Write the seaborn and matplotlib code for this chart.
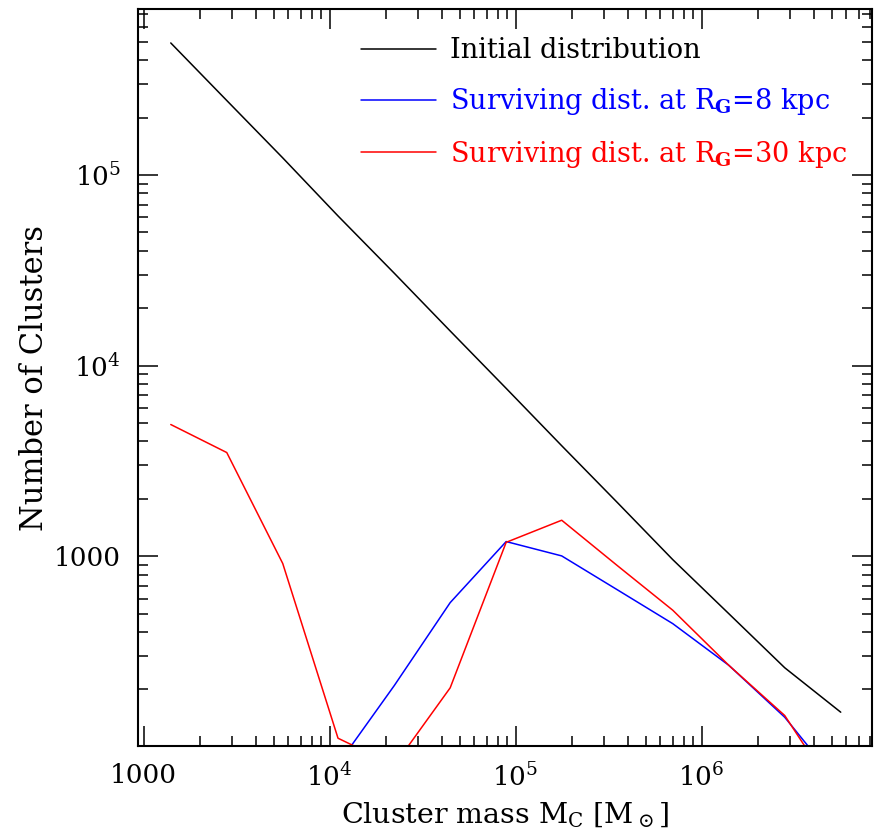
import numpy as np
import pandas as pd
import matplotlib
matplotlib.use("Agg")
import matplotlib.pyplot as plt
import seaborn as sns
from matplotlib.ticker import FixedLocator, FixedFormatter, LogLocator, NullFormatter

# Cluster mass bins [Msun]
mass = [1.40e3, 2.80e3, 5.60e3, 1.11e4, 2.23e4, 4.45e4, 8.9e4,
        1.77e5, 3.55e5, 7.0e5, 1.40e6, 2.80e6, 5.6e6]

# Initial cluster mass function
n_initial = [4.93e5, 2.46e5, 1.23e5, 6.1e4, 3.05e4, 1.52e4, 7.6e3,
             3.8e3, 1.9e3, 960, 500, 260, 152]

# Surviving clusters at R_G = 8 kpc (from the 4th bin on)
mass_rg8 = [1.11e4, 2.23e4, 4.45e4, 8.9e4, 1.77e5, 3.55e5, 7.0e5,
            1.40e6, 2.80e6, 5.6e6]
n_rg8 = [81, 210, 571, 1194, 1004, 664, 443, 268, 143, 62]

# Surviving clusters at R_G = 30 kpc
mass_rg30 = mass
n_rg30 = [4910, 3500, 916, 111, 80, 204, 1183, 1545, 888, 521, 268, 146, 52]

series_names = ["Initial distribution",
                r"Surviving dist. at R$_\mathbf{G}$=8 kpc",
                r"Surviving dist. at R$_\mathbf{G}$=30 kpc"]
series_colors = ["black", "#0000ff", "#ff0000"]

xtick_values = [1e3, 1e4, 1e5, 1e6]
xtick_labels = ["1000", r"$10^{4}$", r"$10^{5}$", r"$10^{6}$"]
ytick_values = [1e3, 1e4, 1e5]
ytick_labels = ["1000", r"$10^{4}$", r"$10^{5}$"]

frames = [
    pd.DataFrame({"mass": mass, "count": n_initial, "series": series_names[0]}),
    pd.DataFrame({"mass": mass_rg8, "count": n_rg8, "series": series_names[1]}),
    pd.DataFrame({"mass": mass_rg30, "count": n_rg30, "series": series_names[2]}),
]
df = pd.concat(frames, ignore_index=True)

sns.set_style("ticks")
plt.rcParams["font.family"] = ["DejaVu Serif"]
plt.rcParams["mathtext.fontset"] = "dejavuserif"
plt.rcParams["text.color"] = "black"
plt.rcParams["axes.labelcolor"] = "black"
plt.rcParams["xtick.color"] = "black"
plt.rcParams["ytick.color"] = "black"

fig = plt.figure(figsize=(8.75, 8.33), dpi=100)
ax = fig.add_axes([0.1574, 0.1044, 0.8392, 0.8844])

sns.lineplot(data=df, x="mass", y="count", hue="series",
             hue_order=series_names,
             palette=dict(zip(series_names, series_colors)),
             estimator=None, sort=False, linewidth=1.1, legend=False, ax=ax)

ax.set_xscale("log")
ax.set_yscale("log")
ax.set_xlim(930, 8.25e6)
ax.set_ylim(101, 7.4e5)

ax.xaxis.set_major_locator(FixedLocator(xtick_values))
ax.xaxis.set_major_formatter(FixedFormatter(xtick_labels))
ax.yaxis.set_major_locator(FixedLocator(ytick_values))
ax.yaxis.set_major_formatter(FixedFormatter(ytick_labels))
ax.xaxis.set_minor_locator(LogLocator(base=10, subs=np.arange(2, 10), numticks=20))
ax.yaxis.set_minor_locator(LogLocator(base=10, subs=np.arange(2, 10), numticks=20))
ax.xaxis.set_minor_formatter(NullFormatter())
ax.yaxis.set_minor_formatter(NullFormatter())

ax.tick_params(which="both", direction="in", top=True, right=True,
               color="black", labelcolor="black", labelsize=19)
ax.tick_params(which="major", length=14.4, width=1.1, pad=12)
ax.tick_params(which="minor", length=7.2, width=1.1)
for sp in ax.spines.values():
    sp.set_linewidth(1.5)
    sp.set_color("black")

ax.set_xlabel(r"Cluster mass M$_\mathrm{C}$ [M$_\odot$]", fontsize=20.5,
              labelpad=6, color="black")
ax.set_ylabel("Number of Clusters", fontsize=22, labelpad=3, color="black")

handles = ax.get_lines()[:3]
leg = ax.legend(handles, series_names, loc="upper left",
                bbox_to_anchor=(0.3037, 0.962), frameon=False, fontsize=19.5,
                handlelength=2.78, handletextpad=0.52, labelspacing=0.8,
                borderpad=0, borderaxespad=0, labelcolor="linecolor")

fig.savefig("out.png", dpi=100)
